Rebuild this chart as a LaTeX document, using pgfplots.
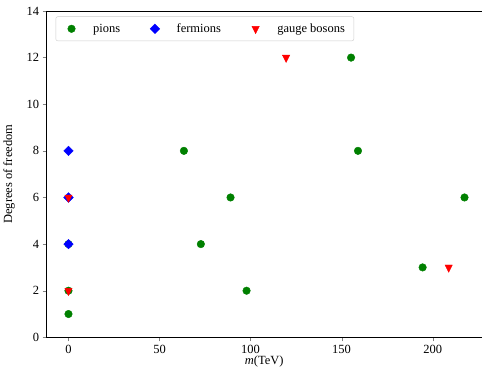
\documentclass[border=0pt]{standalone}
\usepackage{fontspec}
\setmainfont{Liberation Serif}
\usepackage{pgfplots}
\pgfplotsset{compat=1.18}
\pgfplotsset{mylegend/.style={legend image code/.code={\draw[##1] plot coordinates {(0.3cm,0cm)}; \path (0cm,0cm) (0.6cm,0cm);}}}
\definecolor{mgreen}{HTML}{008000}
\definecolor{mblue}{HTML}{0000FF}
\definecolor{mred}{HTML}{FF0000}
\begin{document}
\begin{tikzpicture}
\begin{axis}[
  scale only axis,
  width=436pt, height=327pt,
  xmin=-12, xmax=227,
  ymin=0, ymax=14,
  xtick={0,50,100,150,200},
  ytick={0,2,4,6,8,10,12,14},
  tick align=outside,
  tick pos=left,
  major tick length=4pt,
  /pgf/number format/assume math mode=true,
  ticklabel style={font=\fontsize{12.5}{14}\selectfont},
  xlabel={\textit{m}(TeV)},
  ylabel={Degrees of freedom},
  label style={font=\fontsize{12.5}{14}\selectfont},
  xlabel style={yshift=4pt},
  ylabel style={yshift=5pt},
  legend columns=3,
  legend style={at={(0,1)}, anchor=north west, xshift=9pt, yshift=-5.5pt,
    draw=black!20, rounded corners=2pt, inner ysep=5pt, inner xsep=7pt,
    font=\fontsize{12.5}{14}\selectfont,
    /tikz/every odd column/.append style={column sep=11pt},
    /tikz/every even column/.append style={column sep=24pt}},
  legend cell align=left,
]
\addplot[only marks, mark=*, mark size=3.8pt, color=mgreen, mark options={fill=mgreen}, mylegend] coordinates {
(0,1) (0,2) (0,4) (63.4,8) (72.7,4) (89,6) (97.8,2) (155.2,12) (159,8) (194.5,3) (217.5,6)
};
\addlegendentry{pions}
\addplot[only marks, mark=square*, mark size=3.4pt, color=mblue, mark options={fill=mblue, rotate=45}, mylegend] coordinates {
(0,8) (0,6) (0,4)
};
\addlegendentry{fermions}
\addplot[only marks, mark=triangle*, mark size=4.2pt, color=mred, mark options={fill=mred, rotate=180, yscale=1.15}, mylegend] coordinates {
(0,6) (0,2) (119.5,12) (208.8,3)
};
\addlegendentry{gauge bosons}
\end{axis}
\path (current axis.north west) ++(0,11pt);
\end{tikzpicture}
\end{document}
